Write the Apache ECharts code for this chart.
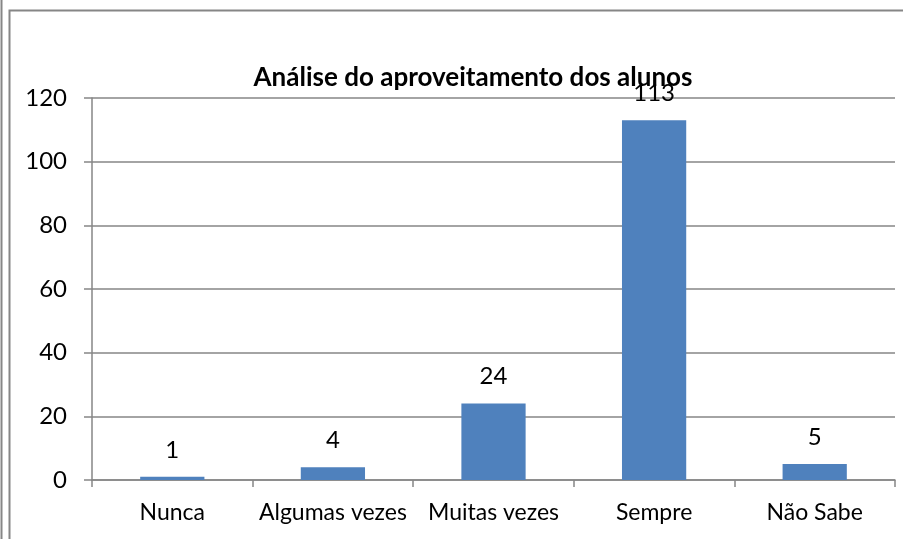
<!DOCTYPE html>
<html>
<head>
<meta charset="utf-8">
<script src="https://cdn.jsdelivr.net/npm/echarts@6/dist/echarts.min.js"></script>
<style>
  html, body { margin: 0; padding: 0; background: #fff; }
  #chart { width: 903px; height: 539px; }
</style>
</head>
<body>
<div id="chart"></div>
<script>
var categorias = ['Nunca', 'Algumas vezes', 'Muitas vezes', 'Sempre', 'Não Sabe']
var valores = [1, 4, 24, 113, 5]
var titulo = 'Análise do aproveitamento dos alunos'

var chart = echarts.init(document.getElementById('chart'))
var fonte = 'Lato, "Open Sans", sans-serif'
var cinza = '#868686'

chart.setOption({
  animation: false,
  title: {
    text: titulo,
    left: 468,
    top: 60,
    textAlign: 'center',
    textStyle: { fontFamily: fonte, fontSize: 26, fontWeight: 'bold', color: '#000' }
  },
  grid: { left: 92, right: 8, top: 98, bottom: 59 },
  xAxis: {
    type: 'category',
    data: categorias,
    axisLine: { lineStyle: { color: cinza, width: 1.5 } },
    axisTick: { show: true, interval: 0, length: 7, lineStyle: { color: cinza, width: 1.5 } },
    axisLabel: { interval: 0, hideOverlap: false, color: '#000', fontFamily: fonte, fontSize: 23, margin: 21 }
  },
  yAxis: {
    type: 'value',
    min: 0,
    max: 120,
    interval: 20,
    axisLine: { show: true, lineStyle: { color: cinza, width: 1.5 } },
    axisTick: { show: true, length: 8, lineStyle: { color: cinza, width: 1.5 } },
    splitLine: { lineStyle: { color: cinza, width: 1.5 } },
    axisLabel: { color: '#000', fontFamily: fonte, fontSize: 24, margin: 25 }
  },
  series: [{
    type: 'bar',
    data: valores,
    barWidth: '40%',
    itemStyle: { color: '#4F81BD' },
    label: {
      show: true,
      position: 'top',
      distance: 15,
      color: '#000',
      fontFamily: fonte,
      fontSize: 24
    }
  }],
  graphic: [
    { type: 'line', shape: { x1: 1.5, y1: 0, x2: 1.5, y2: 539 }, style: { stroke: cinza, lineWidth: 2 } },
    { type: 'polyline', shape: { points: [[9.5, 539], [9.5, 10.5], [903, 10.5]] }, style: { stroke: cinza, lineWidth: 2, fill: null } }
  ]
})
</script>
</body>
</html>
